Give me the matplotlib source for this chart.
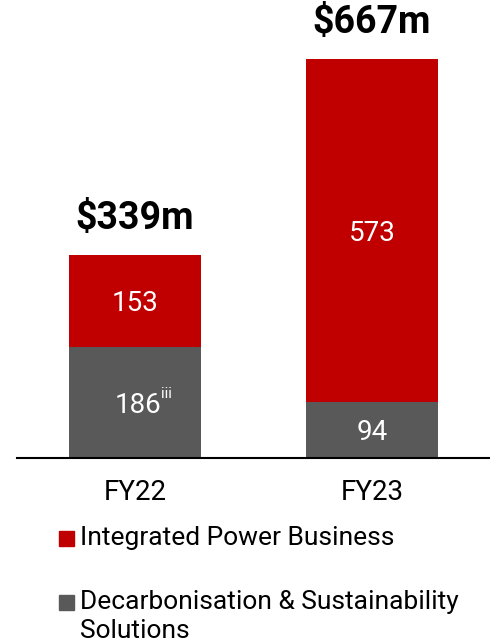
import matplotlib
matplotlib.use("Agg")
import matplotlib.pyplot as plt
from matplotlib.patches import Rectangle

plt.rcParams['font.family'] = ['Roboto', 'DejaVu Sans']

categories = ["FY22", "FY23"]
decarb = [186, 94]
integrated = [153, 573]
totals_labels = ["$339m", "$667m"]
decarb_labels = ["186", "94"]
decarb_sup = ["iii", ""]
integrated_labels = ["153", "573"]
legend_labels = ["Integrated Power Business", "Decarbonisation & Sustainability\nSolutions"]

RED = "#C00000"
GREY = "#595959"

W, H = 490, 644
fig = plt.figure(figsize=(W / 100, H / 100), dpi=100)
ax = fig.add_axes([17 / W, (H - 458) / H, 473 / W, 458 / H])

x = list(range(len(categories)))
bw = 0.557
ax.bar(x, decarb, width=bw, color=GREY, zorder=2)
ax.bar(x, integrated, width=bw, bottom=decarb, color=RED, zorder=2)

ax.set_xlim(-0.498, 1.498)
ax.set_ylim(0, 765.6)

dy = -2.0  # small downward shift in points for centred labels
for i in x:
    tot = decarb[i] + integrated[i]
    ax.annotate(totals_labels[i], (i, tot), xytext=(0, 26.5), textcoords="offset points",
                ha="center", va="center", fontsize=27, fontweight="bold", color="black")
    ax.annotate(integrated_labels[i], (i, decarb[i] + integrated[i] / 2), xytext=(0, dy),
                textcoords="offset points", ha="center", va="center",
                fontsize=20, color="white", zorder=3)
    if decarb_sup[i]:
        ax.annotate(decarb_labels[i], (i, decarb[i] / 2), xytext=(2.5, dy), textcoords="offset points",
                    ha="center", va="center", fontsize=20, color="white", zorder=3)
        ax.annotate(decarb_sup[i], (i, decarb[i] / 2), xytext=(19, 6), textcoords="offset points",
                    ha="left", va="center", fontsize=11, color="white", zorder=3)
    else:
        ax.annotate(decarb_labels[i], (i, decarb[i] / 2), xytext=(0, dy), textcoords="offset points",
                    ha="center", va="center", fontsize=20, color="white", zorder=3)

ax.set_xticks(x)
ax.set_xticklabels(categories, fontsize=20)
ax.tick_params(axis="x", length=0, pad=15)
ax.set_yticks([])
for s in ["left", "right", "top"]:
    ax.spines[s].set_visible(False)
ax.spines["bottom"].set_color("black")
ax.spines["bottom"].set_linewidth(1.5)

# legend
colors = [RED, GREY]
sq_tops = [531, 595]
for c, t, lab in zip(colors, sq_tops, legend_labels):
    fig.patches.append(Rectangle((59 / W, 1 - (t + 15) / H), 15 / W, 15 / H,
                                 transform=fig.transFigure, color=c, figure=fig))
    fig.text(80 / W, 1 - (t + 7.5) / H, lab.split("\n")[0], ha="left", va="center", fontsize=19)
    if "\n" in lab:
        fig.text(80 / W, 1 - (t + 7.5 + 29) / H, lab.split("\n")[1], ha="left", va="center", fontsize=19)

fig.savefig("out.png", dpi=100)
